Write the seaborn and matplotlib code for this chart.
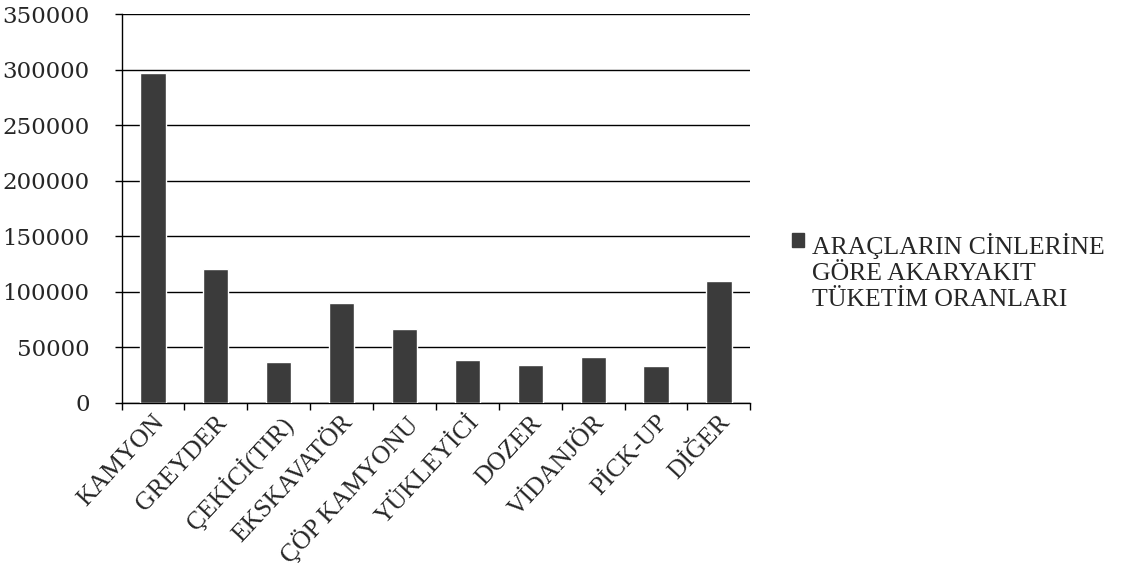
import matplotlib
matplotlib.use("Agg")
import matplotlib.pyplot as plt
import matplotlib.patches as mpatches
import seaborn as sns
import pandas as pd
import numpy as np

# Fuel consumption per vehicle type
categories = ["KAMYON", "GREYDER", "ÇEKİCİ(TIR)", "EKSKAVATÖR", "ÇÖP KAMYONU",
              "YÜKLEYİCİ", "DOZER", "VİDANJÖR", "PİCK-UP", "DİĞER"]
values = [297000, 121000, 37000, 90000, 67000, 39000, 34000, 41000, 33000, 110000]
series_label = "ARAÇLARIN CİNLERİNE\nGÖRE AKARYAKIT\nTÜKETİM ORANLARI"
y_ticks = [0, 50000, 100000, 150000, 200000, 250000, 300000, 350000]

df = pd.DataFrame({"arac": categories, "tuketim": values})

sns.set_theme(style="white")
plt.rcParams["font.family"] = ["Liberation Serif", "DejaVu Serif"]

bar_color = "#3b3b3b"

fig = plt.figure(figsize=(11.25, 5.72), dpi=100)
ax = fig.add_axes([0.108, 0.2955, 0.559, 0.68])

sns.barplot(data=df, x="arac", y="tuketim", color=bar_color, width=0.4,
            saturation=1, ax=ax, zorder=3)

ax.set_ylim(0, 350000)
ax.set_xlim(-0.5, len(categories) - 0.5)
ax.set_yticks(y_ticks)
ax.set_yticklabels([str(v) for v in y_ticks], family="DejaVu Serif", fontsize=16.5)
ax.set_xlabel("")
ax.set_ylabel("")

# horizontal gridlines in black
ax.yaxis.grid(True, color="black", linewidth=1.0, zorder=0)
ax.xaxis.grid(False)

for side in ["top", "right"]:
    ax.spines[side].set_visible(False)
for side in ["left", "bottom"]:
    ax.spines[side].set_color("black")
    ax.spines[side].set_linewidth(1.0)

# category ticks sit between the bars
ax.set_xticks(np.arange(-0.5, len(categories) + 0.5, 1.0), minor=True)
ax.tick_params(axis="x", which="minor", length=5, width=1, color="black",
               direction="out", bottom=True)
ax.tick_params(axis="x", which="major", length=0, pad=6)
ax.tick_params(axis="y", which="major", length=5, width=1, color="black",
               direction="out", left=True, pad=18)

ax.set_xticks(range(len(categories)))
ax.set_xticklabels(categories, fontsize=18.5, rotation=47, ha="right",
                   rotation_mode="anchor")

handle = mpatches.Patch(facecolor=bar_color, edgecolor=bar_color)
leg = fig.legend([handle], [series_label], loc="upper left",
                 bbox_to_anchor=(0.693, 0.615), frameon=False,
                 prop={"family": "Liberation Serif", "size": 18.5},
                 handlelength=0.45, handleheight=0.45, handletextpad=0.3,
                 borderpad=0)
leg.get_texts()[0].set_linespacing(1.22)
# keep the swatch level with the first line of the label
for column in leg._legend_handle_box.get_children():
    for item in column.get_children():
        item.align = "top"

fig.savefig("out.png", dpi=100, facecolor="white")
